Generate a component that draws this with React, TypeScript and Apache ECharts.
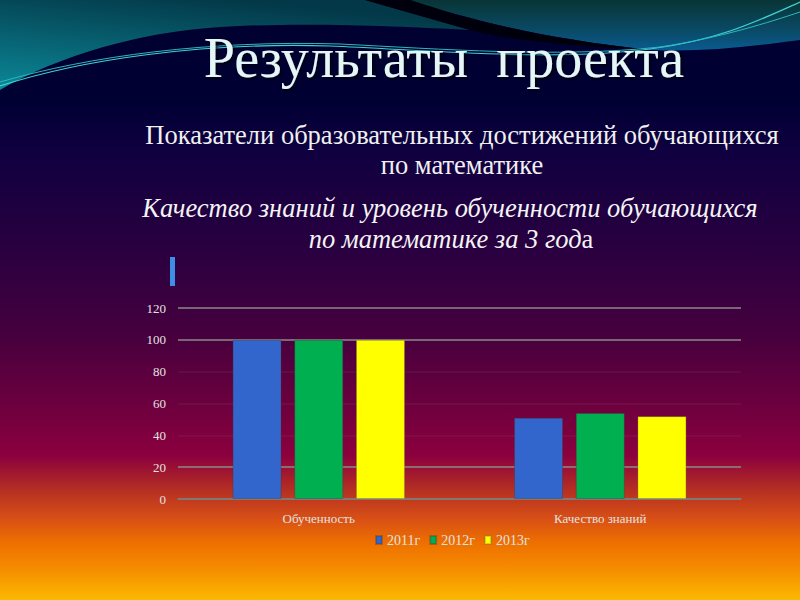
import React, { useEffect, useRef } from "react";
import * as echarts from "echarts";

const categories = ["Обученность", "Качество знаний"];
const seriesNames = ["2011г", "2012г", "2013г"];
const values2011 = [100, 51];
const values2012 = [100, 54];
const values2013 = [100, 52];
const yTicks = { min: 0, max: 120, interval: 20 };

const titleText = "Результаты  проекта";
const subtitle1 = "Показатели образовательных достижений обучающихся";
const subtitle2 = "по математике";
const subtitle3 = "Качество знаний и уровень обученности обучающихся";
const subtitle4a = "по математике за 3 год";
const subtitle4b = "а";

let registered = false;
function registerShapes() {
  if (registered) return;
  registered = true;
  echarts.graphic.registerShape(
    "waveLeft",
    echarts.graphic.extendPath(
      "M0,0 L365,0 L470,30 C400,26 300,22 220,27 C140,32 60,55 0,90 Z",
      {}
    )
  );
  echarts.graphic.registerShape(
    "waveBlack",
    echarts.graphic.extendPath(
      "M365,0 L410,0 C470,20 540,38 650,50 C560,46 500,38 470,30 Z",
      {}
    )
  );
  echarts.graphic.registerShape(
    "waveRight",
    echarts.graphic.extendPath(
      "M410,0 L800,0 L800,40 C740,48 700,52 650,50 C540,38 470,20 410,0 Z",
      {}
    )
  );
  echarts.graphic.registerShape(
    "lineA",
    echarts.graphic.extendPath(
      "M0,86 C80,60 200,42 330,46 C430,50 550,62 650,49 C720,40 760,20 800,2",
      {}
    )
  );
  echarts.graphic.registerShape(
    "lineB",
    echarts.graphic.extendPath(
      "M0,82 C90,56 210,40 340,44 C440,49 560,58 660,47 C720,38 770,22 800,12",
      {}
    )
  );
}

export default function App() {
  const ref = useRef<HTMLDivElement>(null);

  useEffect(() => {
    document.body.style.margin = "0";
    registerShapes();
    const chart = echarts.init(ref.current!, undefined, { renderer: "svg" });
    const serif = "'Liberation Serif', 'Times New Roman', serif";
    const gridColor = "#8a8a8a";
    const faint = "rgba(140,140,140,0.12)";

    const option: any = {
      animation: false,
      backgroundColor: new echarts.graphic.LinearGradient(0, 0, 0, 1, [
        { offset: 0, color: "#000030" },
        { offset: 0.17, color: "#000033" },
        { offset: 0.25, color: "#0f0040" },
        { offset: 0.42, color: "#2a0040" },
        { offset: 0.555, color: "#45003e" },
        { offset: 0.667, color: "#6a003e" },
        { offset: 0.76, color: "#8c003e" },
        { offset: 0.81, color: "#b02a25" },
        { offset: 0.865, color: "#d85015" },
        { offset: 0.905, color: "#ee7000" },
        { offset: 0.945, color: "#f58a00" },
        { offset: 1, color: "#fcb800" },
      ]),
      graphic: [
        {
          type: "waveLeft",
          x: 0,
          y: 0,
          scaleX: 1,
          scaleY: 1,
          z: -10,
          style: {
            fill: new echarts.graphic.LinearGradient(0, 1, 0.5, 0, [
              { offset: 0, color: "#0b8898" },
              { offset: 1, color: "#033848" },
            ]),
          },
        },
        {
          type: "waveRight",
          x: 0,
          y: 0,
          scaleX: 1,
          scaleY: 1,
          z: -10,
          style: {
            fill: new echarts.graphic.LinearGradient(0, 0, 0, 1, [
              { offset: 0, color: "#083535" },
              { offset: 0.6, color: "#0a4a66" },
              { offset: 1, color: "#0a5a90" },
            ]),
          },
        },
        {
          type: "waveBlack",
          x: 0,
          y: 0,
          scaleX: 1,
          scaleY: 1,
          z: -9,
          style: { fill: "#00000c" },
        },
        {
          type: "lineA",
          x: 0,
          y: 0,
          scaleX: 1,
          scaleY: 1,
          z: -8,
          style: { fill: "none", stroke: "#3fd2cf", lineWidth: 1.2 },
        },
        {
          type: "lineB",
          x: 0,
          y: 0,
          scaleX: 1,
          scaleY: 1,
          z: -8,
          style: { fill: "none", stroke: "#2bb8c0", lineWidth: 1 },
        },
        {
          type: "text",
          z: 10,
          style: {
            text: titleText,
            x: 444,
            y: 58,
            textAlign: "center",
            textVerticalAlign: "middle",
            fill: "#e4f6f6",
            font: `56px ${serif}`,
            textShadowColor: "rgba(0,0,0,0.6)",
            textShadowBlur: 3,
            textShadowOffsetX: 2,
            textShadowOffsetY: 2,
          },
        },
        {
          type: "text",
          z: 10,
          style: {
            text: subtitle1,
            x: 462,
            y: 135,
            textAlign: "center",
            textVerticalAlign: "middle",
            fill: "#f0f0f0",
            font: `26.5px ${serif}`,
          },
        },
        {
          type: "text",
          z: 10,
          style: {
            text: subtitle2,
            x: 462,
            y: 165,
            textAlign: "center",
            textVerticalAlign: "middle",
            fill: "#f0f0f0",
            font: `26.5px ${serif}`,
          },
        },
        {
          type: "text",
          z: 10,
          style: {
            text: subtitle3,
            x: 450,
            y: 208,
            textAlign: "center",
            textVerticalAlign: "middle",
            fill: "#f4f4f4",
            font: `italic 26.5px ${serif}`,
          },
        },
        {
          type: "text",
          z: 10,
          style: {
            text: `{i|${subtitle4a}}{n|${subtitle4b}}`,
            x: 451,
            y: 239,
            textAlign: "center",
            textVerticalAlign: "middle",
            fill: "#f4f4f4",
            rich: {
              i: { font: `italic 26.5px ${serif}`, fill: "#f4f4f4" },
              n: { font: `26.5px ${serif}`, fill: "#f4f4f4" },
            },
          },
        },
        {
          type: "rect",
          z: 10,
          shape: { x: 170, y: 257, width: 5, height: 29 },
          style: { fill: "#3d8ee6" },
        },
      ],
      grid: { left: 178, right: 59, top: 308, bottom: 101, containLabel: false },
      legend: {
        data: seriesNames,
        left: 375,
        top: 533,
        padding: 0,
        itemWidth: 6,
        itemHeight: 8,
        itemGap: 9,
        icon: "rect",
        textStyle: { color: "#e2e2e2", fontSize: 14, fontFamily: serif },
      },
      xAxis: {
        type: "category",
        data: categories,
        axisTick: { show: false },
        axisLine: { lineStyle: { color: "#7a7a7a", width: 1.5 } },
        axisLabel: { color: "#e2e2e2", fontSize: 13, fontFamily: serif, margin: 13 },
      },
      yAxis: {
        type: "value",
        min: yTicks.min,
        max: yTicks.max,
        interval: yTicks.interval,
        axisLine: { show: false },
        axisTick: { show: false },
        axisLabel: { color: "#e2e2e2", fontSize: 13, fontFamily: serif, margin: 12 },
        splitLine: {
          lineStyle: {
            color: [gridColor, gridColor, faint, faint, faint, gridColor, gridColor],
            width: 1.5,
          },
        },
      },
      series: [
        {
          name: seriesNames[0],
          type: "bar",
          data: values2011,
          barWidth: "17.4%",
          barGap: "26%",
          itemStyle: { color: "#3366cc", borderColor: "rgba(60,60,60,0.35)", borderWidth: 1 },
        },
        {
          name: seriesNames[1],
          type: "bar",
          data: values2012,
          barWidth: "17.4%",
          barGap: "26%",
          itemStyle: { color: "#00b050", borderColor: "rgba(60,60,60,0.35)", borderWidth: 1 },
        },
        {
          name: seriesNames[2],
          type: "bar",
          data: values2013,
          barWidth: "17.4%",
          barGap: "26%",
          itemStyle: { color: "#ffff00", borderColor: "rgba(120,120,60,0.35)", borderWidth: 1 },
        },
      ],
    };

    chart.setOption(option);
    return () => chart.dispose();
  }, []);

  return <div ref={ref} style={{ width: 800, height: 600 }} />;
}
